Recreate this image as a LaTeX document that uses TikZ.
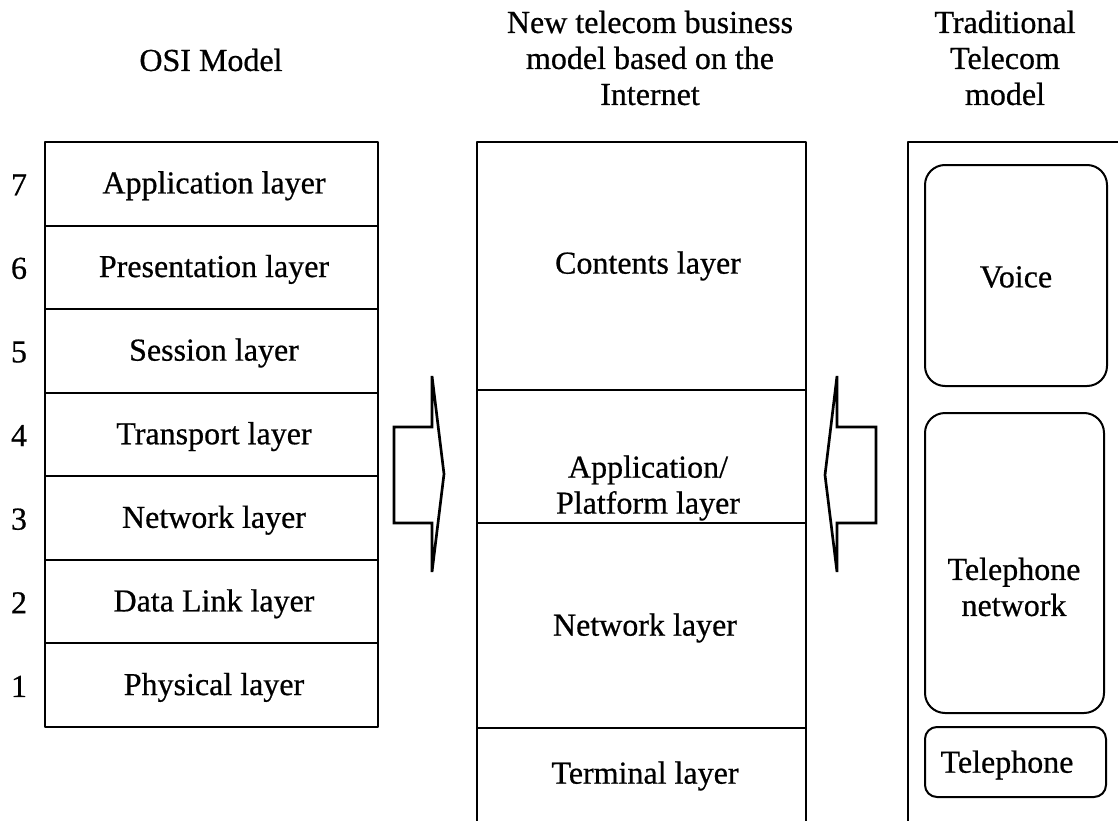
\documentclass[tikz,border=0pt]{standalone}
\usepackage{fontspec}
\setmainfont{Liberation Serif}[FakeBold=0.6]
\begin{document}
\begin{tikzpicture}[x=0.75pt,y=-0.75pt,line width=1.5pt,line join=round,font=\fontsize{24}{27}\selectfont]
	\useasboundingbox (0,0) rectangle (1118,821);
	\tikzset{title/.style={align=center},
		roundbox/.style={rounded corners=15pt},
		bigarrow/.style={line width=2pt,line join=miter}}
	% titles
	\node[title] (tosi) at (211,60) {OSI Model};
	\node[title] (tnew) at (650,58) {New telecom business\\model based on the\\Internet};
	\node[title] (told) at (1005,58) {Traditional\\Telecom\\model};
	% OSI model
	\draw (45,142) rectangle (378,727);
	\foreach \y in {225.6,309.1,392.7,476.3,559.9,643.4}
		\draw (45,\y) -- (378,\y);
	\foreach \n/\l [count=\i] in {7/Application layer,6/Presentation layer,5/Session layer,4/Transport layer,3/Network layer,2/Data Link layer,1/Physical layer}{
		\node (osi\n) at (214,{144+83.6*(\i-0.5)}) {\l};
		\node (num\n) at (19,{143+83.6*(\i-0.5)}) {\n};
	}
	% new telecom business model
	\draw (477,821) -- (477,142) -- (806,142) -- (806,821);
	\foreach \y in {390,523,728}
		\draw (477,\y) -- (806,\y);
	\node (contents) at (648,266) {Contents layer};
	\node[title] (platform) at (648,488) {Application/\\Platform layer};
	\node (network) at (645,628) {Network layer};
	\node (terminal) at (645,776) {Terminal layer};
	% traditional telecom model
	\draw (908,821) -- (908,142) -- (1118,142);
	\draw[roundbox] (925,165) rectangle (1107,386);
	\draw[roundbox] (925,413) rectangle (1104,713);
	\draw[roundbox,rounded corners=9pt] (925,727) rectangle (1106,797);
	\node (voice) at (1016,277) {Voice};
	\node[title] (telnet) at (1014,587) {Telephone\\network};
	\node (phone) at (1007,765) {Telephone};
	% arrows
	\draw[bigarrow] (394,427) -- (432,427) -- (432,376) -- (444,474) -- (432,572) -- (432,523) -- (394,523) -- cycle;
	\draw[bigarrow] (876,427) -- (837,427) -- (837,376) -- (825,475) -- (837,572) -- (837,523) -- (876,523) -- cycle;
\end{tikzpicture}
\end{document}
